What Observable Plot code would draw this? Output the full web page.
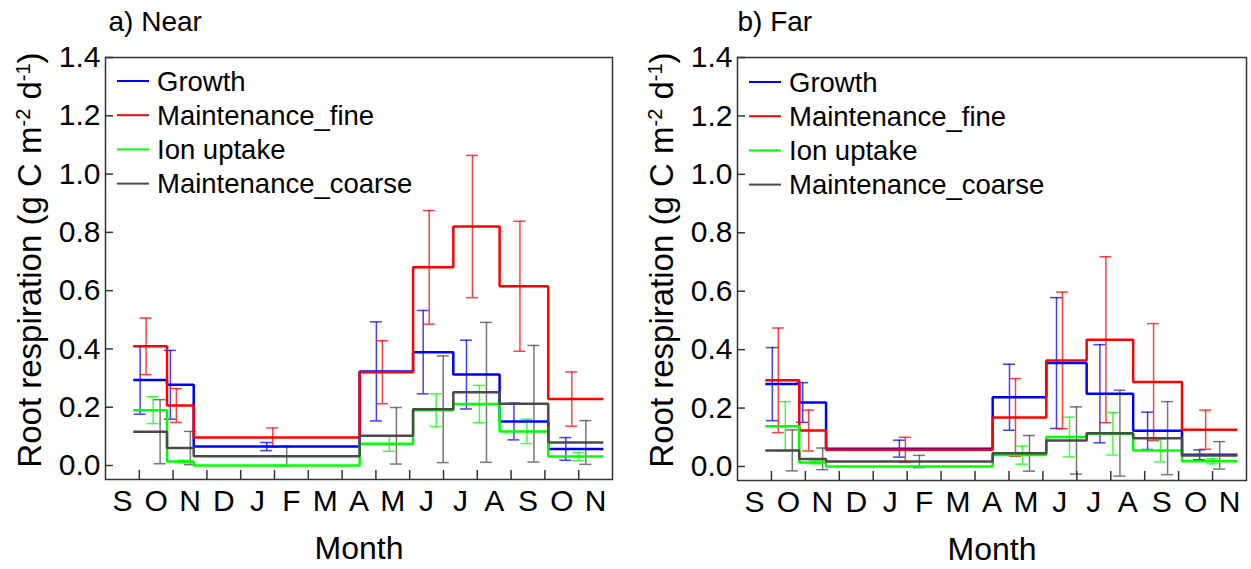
<!DOCTYPE html>
<html>
<head>
<meta charset="utf-8">
<script src="https://cdn.jsdelivr.net/npm/d3@7"></script>
<script src="https://cdn.jsdelivr.net/npm/@observablehq/plot@0.6"></script>
<style>
  body { margin: 0; background: #fff; }
  #fig { position: relative; width: 1251px; height: 569px; background: #fff; }
  #fig svg { position: absolute; top: 0; }
</style>
</head>
<body>
<div id="fig"></div>
<script>
// Month letters along the x axis (September through November of the next year)
const monthLabels = ["S", "O", "N", "D", "J", "F", "M", "A", "M", "J", "J", "A", "S", "O", "N"];
const yTicks = [0, 0.2, 0.4, 0.6, 0.8, 1.0, 1.2, 1.4];
const seriesNames = ["Growth", "Maintenance_fine", "Ion uptake", "Maintenance_coarse"];

// Sampling-period boundaries, in months counted from 1 September
const periodBounds = [0.82, 1.82, 2.61, 7.52, 9.10, 10.29, 11.66, 13.10, 14.73];

// a) Near — mean per period and error (g C m-2 d-1)
const nearGrowth     = [0.293, 0.277, 0.065, 0.323, 0.389, 0.312, 0.151, 0.057];
const nearGrowthErr  = [0.117, 0.118, 0.014, 0.170, 0.143, 0.118, 0.063, 0.039];
const nearFine       = [0.409, 0.206, 0.096, 0.320, 0.680, 0.820, 0.615, 0.228];
const nearFineErr    = [0.097, 0.058, 0.033, 0.108, 0.195, 0.244, 0.223, 0.093];
const nearIon        = [0.190, 0.014, 0.000, 0.075, 0.190, 0.211, 0.117, 0.031];
const nearIonErr     = [0.046, 0.004, 0.000, 0.026, 0.056, 0.064, 0.042, 0.014];
const nearCoarse     = [0.116, 0.060, 0.032, 0.102, 0.193, 0.251, 0.212, 0.079];
const nearCoarseErr  = [0.110, 0.057, 0.033, 0.097, 0.183, 0.240, 0.200, 0.075];

// b) Far
const farGrowth      = [0.282, 0.219, 0.061, 0.237, 0.354, 0.249, 0.122, 0.040];
const farGrowthErr   = [0.125, 0.068, 0.029, 0.113, 0.224, 0.168, 0.064, 0.017];
const farFine        = [0.295, 0.123, 0.057, 0.168, 0.363, 0.434, 0.289, 0.126];
const farFineErr     = [0.179, 0.070, 0.043, 0.133, 0.234, 0.284, 0.200, 0.067];
const farIon         = [0.138, 0.014, 0.000, 0.039, 0.101, 0.112, 0.055, 0.018];
const farIonErr      = [0.084, 0.005, 0.000, 0.031, 0.068, 0.073, 0.039, 0.009];
const farCoarse      = [0.055, 0.026, 0.017, 0.045, 0.089, 0.114, 0.097, 0.038];
const farCoarseErr   = [0.070, 0.037, 0.021, 0.061, 0.115, 0.147, 0.125, 0.047];

// Styling
const seriesColors = ["#0000ff", "#ff0000", "#00ff00", "#4a4a4a"];
const barOffsets = [-10, -4, 3, 10];   // px shift of each series' error bar inside a period
const FONT = "Arial, 'Liberation Sans', Helvetica, sans-serif";
const xDomain = [0, monthLabels.length];
const yDomain = [-0.048, 1.4];
const axisColor = "#333";

function panel({title, values, errors, width, marginLeft, marginRight, marginBottom, legendX, legendY, ylabelX, titleDx}) {
  const mids = periodBounds.slice(0, -1).map((b, i) => (b + periodBounds[i + 1]) / 2);
  const monthTicks = d3.range(1, monthLabels.length);
  const labelPos = monthLabels.map((_, i) => i + 0.5);
  const marks = [];

  // inward-pointing ticks
  marks.push(Plot.ruleY(yTicks, {y: d => d, x1: () => xDomain[0], x2: () => xDomain[0], insetRight: -8, stroke: axisColor, strokeWidth: 1.5}));
  marks.push(Plot.ruleX(monthTicks, {x: d => d, y1: () => yDomain[0], y2: () => yDomain[0], insetBottom: 9, stroke: axisColor, strokeWidth: 1.5}));

  // error bars
  values.forEach((vals, s) => {
    const bars = mids.map((m, i) => ({x: m, lo: vals[i] - errors[s][i], hi: vals[i] + errors[s][i]}));
    const common = {stroke: seriesColors[s], strokeWidth: 1.5, strokeOpacity: 0.75, dx: barOffsets[s]};
    marks.push(Plot.ruleX(bars, {x: "x", y1: "lo", y2: "hi", ...common}));
    marks.push(Plot.ruleY(bars, {y: "lo", x1: "x", x2: "x", insetLeft: -6, insetRight: -6, ...common}));
    marks.push(Plot.ruleY(bars, {y: "hi", x1: "x", x2: "x", insetLeft: -6, insetRight: -6, ...common}));
  });

  // period step lines
  values.forEach((vals, s) => {
    const steps = periodBounds.map((b, i) => ({x: b, y: vals[Math.min(i, vals.length - 1)]}));
    marks.push(Plot.line(steps, {x: "x", y: "y", curve: "step-after", stroke: seriesColors[s], strokeWidth: 2.5, strokeLinejoin: "miter", strokeLinecap: "butt"}));
  });

  marks.push(Plot.frame({stroke: axisColor, strokeWidth: 1.5}));

  // axes
  marks.push(Plot.axisY(yTicks, {tickSize: 0, tickPadding: 5, tickFormat: d => d.toFixed(1), fontSize: 30, label: null, color: "#000"}));
  marks.push(Plot.axisX(labelPos, {tickSize: 0, tickPadding: 10, tickFormat: d => monthLabels[Math.floor(d)], fontSize: 30, label: null, color: "#000"}));

  // panel title and axis title
  marks.push(Plot.text([title], {frameAnchor: "top-left", dx: titleDx, dy: -46, textAnchor: "start", fontSize: 28, fill: "#000"}));
  marks.push(Plot.text(["Month"], {frameAnchor: "bottom", dy: 79, fontSize: 32, fill: "#000"}));

  const svg = Plot.plot({
    width, height: 569,
    marginTop: 57, marginLeft, marginRight, marginBottom,
    x: {domain: xDomain},
    y: {domain: yDomain},
    style: {fontFamily: FONT, background: "transparent", overflow: "visible", color: "#000"},
    marks
  });

  const root = d3.select(svg);

  // legend
  const lg = root.append("g").attr("font-family", FONT).attr("font-size", 27.5).attr("text-anchor", "start");
  seriesNames.forEach((name, i) => {
    const y = legendY + i * 34.2;
    lg.append("line").attr("x1", legendX).attr("x2", legendX + 32).attr("y1", y).attr("y2", y)
      .attr("stroke", seriesColors[i]).attr("stroke-width", 2);
    lg.append("text").attr("x", legendX + 40).attr("y", y).attr("dy", "0.35em").attr("fill", "#000").text(name);
  });

  // y-axis title with superscripts
  const yt = root.append("text")
    .attr("transform", `translate(${ylabelX},260) rotate(-90)`)
    .attr("text-anchor", "middle").attr("font-family", FONT).attr("font-size", 33).attr("fill", "#000");
  yt.append("tspan").text("Root respiration (g C m");
  yt.append("tspan").attr("baseline-shift", "super").attr("font-size", 20).text("-2");
  yt.append("tspan").text(" d");
  yt.append("tspan").attr("baseline-shift", "super").attr("font-size", 20).text("-1");
  yt.append("tspan").text(")");

  return svg;
}

const fig = document.getElementById("fig");

const near = panel({
  title: "a) Near",
  values: [nearGrowth, nearFine, nearIon, nearCoarse],
  errors: [nearGrowthErr, nearFineErr, nearIonErr, nearCoarseErr],
  width: 625, marginLeft: 105, marginRight: 13, marginBottom: 90,
  legendX: 117, legendY: 81, ylabelX: 41, titleDx: 3
});
near.style.left = "0px";
fig.appendChild(near);

const far = panel({
  title: "b) Far",
  values: [farGrowth, farFine, farIon, farCoarse],
  errors: [farGrowthErr, farFineErr, farIonErr, farCoarseErr],
  width: 626, marginLeft: 112, marginRight: 5, marginBottom: 89,
  legendX: 124, legendY: 82, ylabelX: 48, titleDx: 0
});
far.style.left = "625px";
fig.appendChild(far);
</script>
</body>
</html>
